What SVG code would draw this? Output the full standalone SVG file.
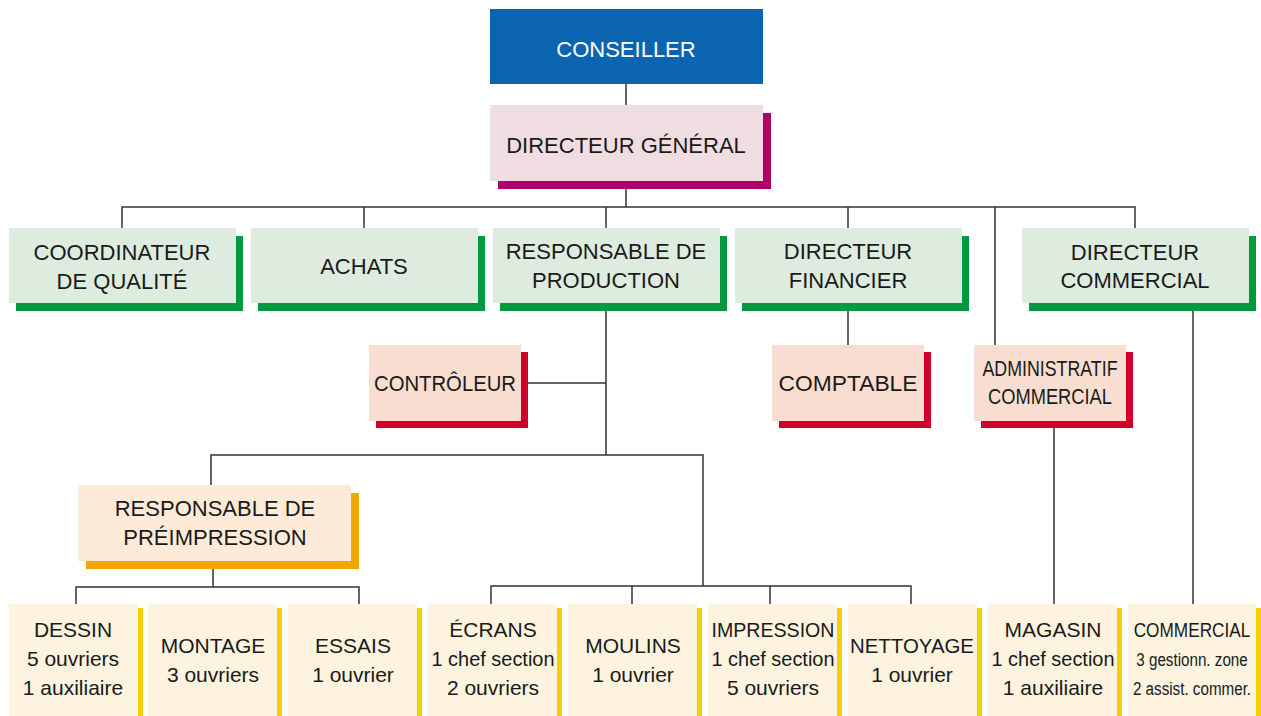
<svg xmlns="http://www.w3.org/2000/svg" width="1261" height="716" viewBox="0 0 1261 716">
<style>
text{font-family:"Liberation Sans",Arial,sans-serif;font-size:22px;fill:#1a1a1a;text-anchor:middle}
.sm{font-size:21px}
.xs{font-size:19px}
.w{fill:#ffffff}
.g{fill:#deebdf}.gs{fill:#009a3e}
.r{fill:#f9ddd0}.rs{fill:#d0002a}
.o{fill:#fdebd8}.os{fill:#f0a800}
.y{fill:#fdf3de}.ys{fill:#f5d000}
.ln{stroke:#333;stroke-width:1.5;fill:none}
</style>
<rect width="1261" height="716" fill="#ffffff"/>
<g id="connectors" class="ln">
<path d="M626 84V105M626 189V207M122 228V207H1135V228M364 207V228M606 207V228M848 207V228M995 207V345"/>
<path d="M606 311V455M528 383H606M848 311V345M1054 428V604M1193 311V604"/>
<path d="M211 485V455H703V586M213 569V587M76 604V587H359V604"/>
<path d="M491 604V586H911V604M632 586V604M770 586V604"/>
</g>
<g id="conseiller"><rect x="490" y="9" width="273" height="75" fill="#0a64b0"/><text class="w" x="626" y="57">CONSEILLER</text></g>
<g id="dg"><rect x="498" y="113" width="273" height="76" fill="#b0006a"/><rect x="490" y="105" width="273" height="76" fill="#f0dde2"/><text x="626" y="153">DIRECTEUR GÉNÉRAL</text></g>
<g id="coord"><rect class="gs" x="16" y="236" width="227" height="75"/><rect class="g" x="9" y="228" width="227" height="75"/><text x="122" y="260">COORDINATEUR</text><text x="122" y="289">DE QUALITÉ</text></g>
<g id="achats"><rect class="gs" x="258" y="236" width="227" height="75"/><rect class="g" x="251" y="228" width="227" height="75"/><text x="364" y="274">ACHATS</text></g>
<g id="prod"><rect class="gs" x="500" y="236" width="227" height="75"/><rect class="g" x="493" y="228" width="227" height="75"/><text x="606" y="259">RESPONSABLE DE</text><text x="606" y="288">PRODUCTION</text></g>
<g id="fin"><rect class="gs" x="742" y="236" width="227" height="75"/><rect class="g" x="735" y="228" width="227" height="75"/><text x="848" y="259">DIRECTEUR</text><text x="848" y="288">FINANCIER</text></g>
<g id="com"><rect class="gs" x="1029" y="236" width="227" height="75"/><rect class="g" x="1022" y="228" width="227" height="75"/><text x="1135" y="260">DIRECTEUR</text><text x="1135" y="288">COMMERCIAL</text></g>
<g id="controleur"><rect class="rs" x="376" y="352" width="152" height="76"/><rect class="r" x="369" y="345" width="152" height="76"/><text x="445" y="391" textLength="142" lengthAdjust="spacingAndGlyphs">CONTRÔLEUR</text></g>
<g id="comptable"><rect class="rs" x="779" y="352" width="152" height="76"/><rect class="r" x="772" y="345" width="152" height="76"/><text x="848" y="391" textLength="139" lengthAdjust="spacingAndGlyphs">COMPTABLE</text></g>
<g id="admin"><rect class="rs" x="981" y="352" width="152" height="76"/><rect class="r" x="974" y="345" width="152" height="76"/><text x="1050" y="376" textLength="135" lengthAdjust="spacingAndGlyphs">ADMINISTRATIF</text><text x="1050" y="404" textLength="124" lengthAdjust="spacingAndGlyphs">COMMERCIAL</text></g>
<g id="preimp"><rect class="os" x="86" y="493" width="273" height="76"/><rect class="o" x="78" y="485" width="273" height="76"/><text x="215" y="516">RESPONSABLE DE</text><text x="215" y="545">PRÉIMPRESSION</text></g>
<g id="dessin"><rect class="ys" x="138" y="608" width="5" height="108"/><rect class="y" x="9" y="604" width="129" height="112"/><text class="sm" x="73" y="637">DESSIN</text><text class="sm" x="73" y="666">5 ouvriers</text><text class="sm" x="73" y="695">1 auxiliaire</text></g>
<g id="montage"><rect class="ys" x="277" y="608" width="5" height="108"/><rect class="y" x="148" y="604" width="129" height="112"/><text class="sm" x="213" y="653">MONTAGE</text><text class="sm" x="213" y="682">3 ouvriers</text></g>
<g id="essais"><rect class="ys" x="417" y="608" width="5" height="108"/><rect class="y" x="288" y="604" width="129" height="112"/><text class="sm" x="353" y="653">ESSAIS</text><text class="sm" x="353" y="682">1 ouvrier</text></g>
<g id="ecrans"><rect class="ys" x="557" y="608" width="5" height="108"/><rect class="y" x="428" y="604" width="129" height="112"/><text class="sm" x="493" y="637">ÉCRANS</text><text class="sm" x="493" y="666" textLength="123" lengthAdjust="spacingAndGlyphs">1 chef section</text><text class="sm" x="493" y="695">2 ouvriers</text></g>
<g id="moulins"><rect class="ys" x="697" y="608" width="5" height="108"/><rect class="y" x="568" y="604" width="129" height="112"/><text class="sm" x="633" y="653">MOULINS</text><text class="sm" x="633" y="682">1 ouvrier</text></g>
<g id="impression"><rect class="ys" x="837" y="608" width="5" height="108"/><rect class="y" x="708" y="604" width="129" height="112"/><text class="sm" x="773" y="637" textLength="123" lengthAdjust="spacingAndGlyphs">IMPRESSION</text><text class="sm" x="773" y="666" textLength="123" lengthAdjust="spacingAndGlyphs">1 chef section</text><text class="sm" x="773" y="695">5 ouvriers</text></g>
<g id="nettoyage"><rect class="ys" x="977" y="608" width="5" height="108"/><rect class="y" x="848" y="604" width="129" height="112"/><text class="sm" x="912" y="653" textLength="124" lengthAdjust="spacingAndGlyphs">NETTOYAGE</text><text class="sm" x="912" y="682">1 ouvrier</text></g>
<g id="magasin"><rect class="ys" x="1117" y="608" width="5" height="108"/><rect class="y" x="988" y="604" width="129" height="112"/><text class="sm" x="1053" y="637">MAGASIN</text><text class="sm" x="1053" y="666" textLength="123" lengthAdjust="spacingAndGlyphs">1 chef section</text><text class="sm" x="1053" y="695">1 auxiliaire</text></g>
<g id="commercial"><rect class="ys" x="1256" y="608" width="5" height="108"/><rect class="y" x="1128" y="604" width="128" height="112"/><text class="sm" transform="translate(1192 637) scale(0.82 1)">COMMERCIAL</text><text class="xs" transform="translate(1192 666) scale(0.8 1)">3 gestionn. zone</text><text class="xs" transform="translate(1192 695) scale(0.8 1)">2 assist. commer.</text></g>
</svg>
